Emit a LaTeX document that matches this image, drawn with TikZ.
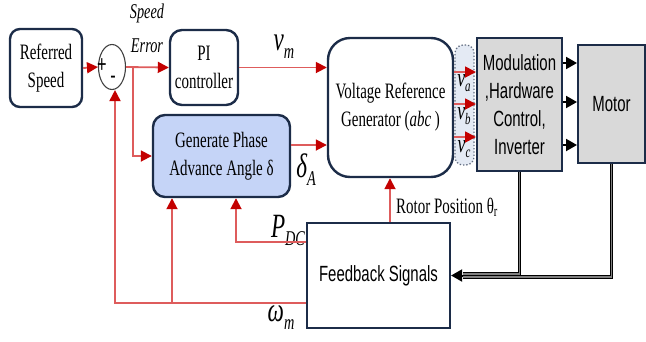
\documentclass[tikz,border=0pt]{standalone}
\usepackage{fontspec}
\setmainfont{Liberation Serif}[FakeStretch=0.68]
\newfontfamily\sansf{Liberation Sans}[FakeStretch=0.68]
\usetikzlibrary{arrows.meta,shapes.geometric,calc}
\definecolor{navy}{RGB}{28,44,72}
\definecolor{lred}{RGB}{222,92,92}
\definecolor{dred}{RGB}{195,0,0}
\definecolor{blfill}{RGB}{197,212,247}
\definecolor{gfill}{RGB}{217,217,217}
\definecolor{dotfill}{RGB}{228,234,244}
\newcommand\ml[2]{{\fontsize{34}{34}\selectfont\itshape #1}\raisebox{-8pt}{\fontsize{21}{21}\selectfont\itshape #2}}
\newcommand\sml[2]{{\fontsize{26}{26}\selectfont\itshape #1}\raisebox{-5pt}{\fontsize{16}{16}\selectfont\itshape #2}}
\begin{document}
\begin{tikzpicture}[x=1pt,y=-1pt,
  box/.style={draw=navy,line width=2.4pt,fill=white,align=center,inner sep=0pt},
  txt/.style={font=\fontsize{22}{28}\selectfont},
  stxt/.style={font=\sansf\fontsize{22}{28}\selectfont},
  sig/.style={draw=lred,line width=1.8pt,-{Triangle[length=11pt,width=11pt,color=dred]}},
  blk/.style={draw=black,line width=2pt,-{Triangle[length=11pt,width=12pt]}},
  dbl/.style={draw=black,double=gray,line width=1.1pt,double distance=1.6pt},
  lab/.style={inner sep=0pt}
]
\useasboundingbox (0,0) rectangle (646,341);

% blocks
\node[box,txt,rounded corners=10pt,minimum width=72pt,minimum height=78pt] (ref) at (46,68) {Referred\\Speed};
\node[draw=black!75,line width=1.1pt,ellipse,minimum width=27pt,minimum height=45pt,inner sep=0pt] (sum) at (112,67) {};
\node[lab,font=\sansf\fontsize{24}{24}\selectfont] (plus) at (102,66) {+};
\node[lab,font=\sansf\fontsize{24}{24}\selectfont] (minus) at (113,80) {-};
\node[box,txt,rounded corners=12pt,minimum width=68pt,minimum height=75pt] (pi) at (204,67.5) {PI\\controller};
\node[box,txt,rounded corners=12pt,minimum width=137pt,minimum height=82pt,fill=blfill] (gen) at (221.5,156) {Generate Phase\\Advance Angle δ};
\node[box,txt,rounded corners=22pt,minimum width=125pt,minimum height=139pt] (vrg) at (390.5,107.5) {Voltage Reference\\Generator (\textit{abc} )};
\node[draw=navy!70,dotted,line width=1.3pt,fill=dotfill,rounded corners=8pt,minimum width=19pt,minimum height=120pt,inner sep=0pt] (grp) at (464.5,105) {};
\node[box,stxt,line width=2pt,fill=gfill,minimum width=85pt,minimum height=133pt] (mod) at (519.5,104.5) {Modulation\\,Hardware\\Control,\\Inverter};
\node[box,stxt,line width=2pt,fill=gfill,minimum width=67pt,minimum height=118pt] (motor) at (611.5,104) {Motor};
\node[box,stxt,line width=2.2pt,minimum width=143pt,minimum height=105pt] (fb) at (378.5,275.5) {Feedback Signals};

% labels
\node[lab,txt,font=\itshape\fontsize{21}{21}\selectfont] (spd) at (147,13) {Speed};
\node[lab,txt,font=\itshape\fontsize{21}{21}\selectfont] (err) at (147,46) {Error};
\node[lab] (vm) at (284,47) {\ml{v}{m}};
\node[lab] (dA) at (306,170) {\ml{δ}{A}};
\node[lab] (pdc) at (288,230) {\ml{P}{DC}};
\node[lab] (wm) at (281,318) {\ml{ω}{m}};
\node[lab,txt,anchor=west] (rot) at (396,207) {Rotor Position θ\textsubscript{r}};
\node[lab] (va) at (464,83) {\sml{v}{a}};
\node[lab] (vb) at (464,116) {\sml{v}{b}};
\node[lab] (vc) at (464,149) {\sml{v}{c}};

% red signal paths
\draw[sig] (ref.east) -- (sum.west);
\draw[sig] (sum.east) -- (pi.west);
\coordinate (br) at (133,67);
\draw[sig] (br) |- (gen.west);
\draw[sig] (pi.east) -- (pi.east -| vrg.west);
\draw[sig] ([yshift=11pt]gen.east) -- ([yshift=11pt]gen.east -| vrg.west);
\foreach \s in {35.5,3.5,-29.5}
  \draw[sig] ([yshift=\s pt]vrg.east) -- ([yshift=\s pt]vrg.east -| mod.west);
\foreach \s in {41.5,2.5,-40.5}
  \draw[blk] ([yshift=\s pt]mod.east) -- ([yshift=\s pt]mod.east -| motor.west);
\draw[sig] ([xshift=11.5pt]fb.north) -- ([xshift=11.5pt]fb.north |- vrg.south);
\draw[sig] ([yshift=33.5pt]fb.west) -| ([xshift=14.5pt]gen.south);
\draw[sig] ([yshift=-27.5pt]fb.west) -| ([xshift=3pt]sum.south);
\coordinate (omb) at (172,303);
\draw[sig] (omb) -- (omb |- gen.south);

% feedback double lines
\coordinate (fbin) at ([xshift=12pt]fb.east);
\draw[dbl] (motor.south) |- ([yshift=-1.5pt]fbin);
\draw[dbl] (mod.south) |- ([yshift=1.5pt]fbin);
\draw[blk] (fbin) -- (fb.east);
\end{tikzpicture}
\end{document}
